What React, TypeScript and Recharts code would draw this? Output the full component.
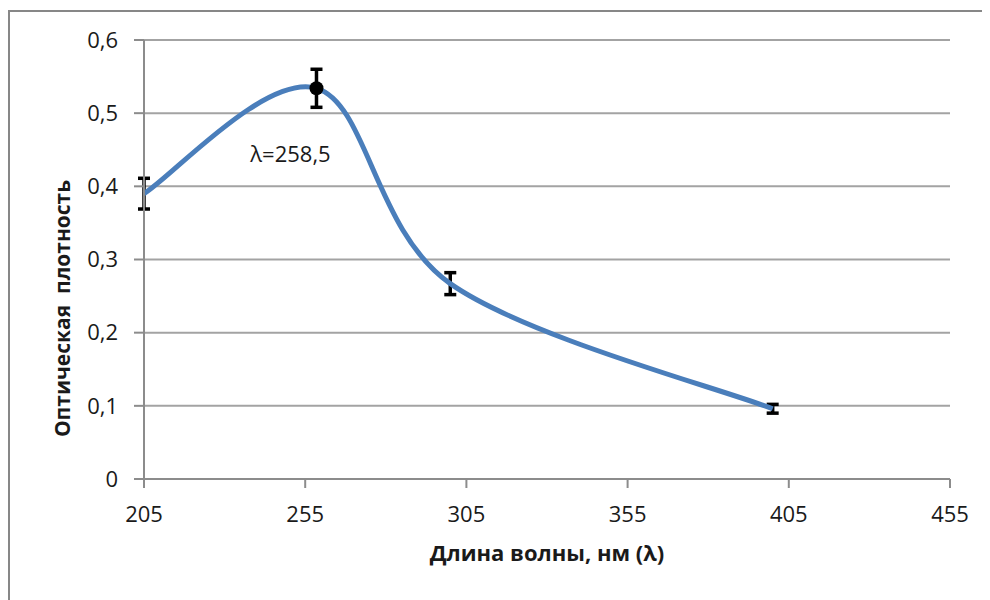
import { LineChart, Line, XAxis, YAxis, CartesianGrid, ErrorBar, Label } from 'recharts'

const wavelengths = [205, 258.5, 300, 400]
const density = [0.39, 0.534, 0.267, 0.096]
const densityError = [0.021, 0.026, 0.015, 0.006]
const xTicks = [205, 255, 305, 355, 405, 455]
const yTicks = [0, 0.1, 0.2, 0.3, 0.4, 0.5, 0.6]
const PEAK = 258.5

const data = wavelengths.map((x, i) => ({ x, y: density[i], err: densityError[i] }))

const FONT = '"Open Sans", "Noto Sans", sans-serif'
const fmt = (v: number) => String(v).replace('.', ',')

// Excel-like smoothed line (Catmull-Rom through the points)
function excelSmooth(context: any) {
  let pts: number[][] = []
  return {
    areaStart() {},
    areaEnd() {},
    lineStart() { pts = [] },
    point(x: number, y: number) { pts.push([+x, +y]) },
    lineEnd() {
      if (!pts.length) return
      context.moveTo(pts[0][0], pts[0][1])
      for (let i = 0; i < pts.length - 1; i++) {
        const p0 = pts[i - 1] ?? pts[i]
        const p1 = pts[i]
        const p2 = pts[i + 1]
        const p3 = pts[i + 2] ?? p2
        context.bezierCurveTo(
          p1[0] + (p2[0] - p0[0]) / 6, p1[1] + (p2[1] - p0[1]) / 6,
          p2[0] - (p3[0] - p1[0]) / 6, p2[1] - (p3[1] - p1[1]) / 6,
          p2[0], p2[1],
        )
      }
    },
  }
}

function PeakDot(props: any) {
  const { cx, cy, payload, index } = props
  if (payload.x !== PEAK) return <g key={index} />
  return (
    <g key={index}>
      <circle cx={cx} cy={cy} r={7} fill="#000" />
      <text x={cx - 26} y={cy + 74} textAnchor="middle" fontSize={22} fontFamily={FONT} fill="#1a1a1a">
        λ={fmt(PEAK)}
      </text>
    </g>
  )
}

export default function App() {
  return (
    <div style={{ marginTop: 2, width: 980, height: 588, borderTop: '2px solid #878787', borderLeft: '2px solid #878787', background: '#fff' }}>
      <LineChart width={980} height={588} data={data} margin={{ top: 28, right: 40, left: 0, bottom: 61 }}>
        <CartesianGrid vertical={false} stroke="#a3a3a3" strokeWidth={2} />
        <XAxis
          dataKey="x"
          type="number"
          domain={[205, 455]}
          ticks={xTicks}
          height={60}
          stroke="#8c8c8c"
          strokeWidth={2}
          tickSize={9}
          tickMargin={18}
          tick={{ fill: '#1a1a1a', fontSize: 22, fontFamily: FONT }}
        >
          <Label value="Длина волны, нм (λ)" position="bottom" offset={6} fill="#1a1a1a" fontSize={22} fontWeight="bold" fontFamily={FONT} />
        </XAxis>
        <YAxis
          type="number"
          domain={[0, 0.6]}
          ticks={yTicks}
          width={134}
          stroke="#8c8c8c"
          strokeWidth={2}
          tickSize={10}
          tickMargin={16}
          tickFormatter={fmt}
          tick={{ fill: '#1a1a1a', fontSize: 22, fontFamily: FONT }}
        >
          <Label
            content={(p: any) => {
              const vb = p.viewBox
              const cx = vb.x + 52
              const cy = vb.y + vb.height / 2 + 49
              return (
                <text x={cx} y={cy} transform={`rotate(-90 ${cx} ${cy})`} textAnchor="middle" dominantBaseline="central" fontSize={21} fontWeight="bold" fontFamily={FONT} fill="#1a1a1a" style={{ whiteSpace: 'pre' }}>
                  {'Оптическая  плотность'}
                </text>
              )
            }}
          />
        </YAxis>
        <Line dataKey="y" type={excelSmooth as any} stroke="#4a7ebb" strokeWidth={5} dot={PeakDot} activeDot={false} isAnimationActive={false}>
          <ErrorBar dataKey="err" direction="y" width={6} stroke="#000" strokeWidth={3.5} />
        </Line>
      </LineChart>
    </div>
  )
}
